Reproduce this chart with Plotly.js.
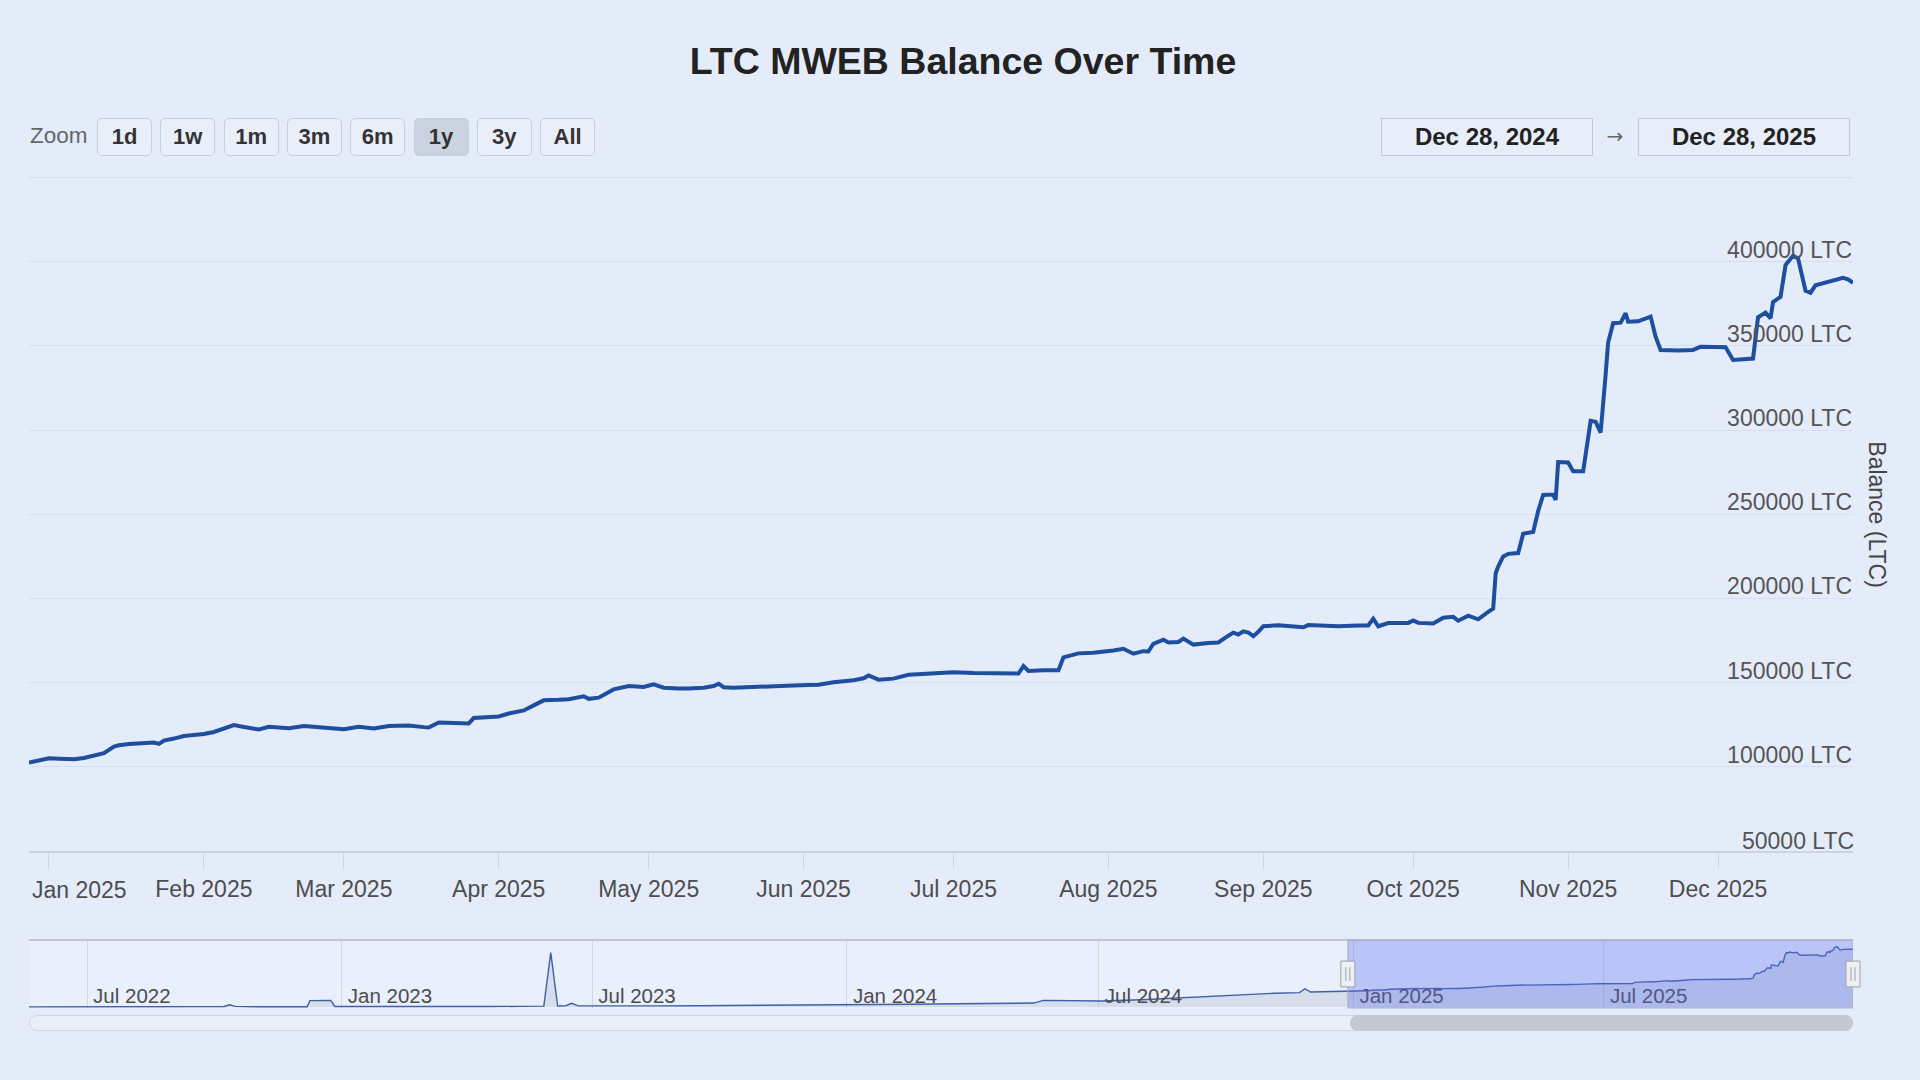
<!DOCTYPE html>
<html>
<head>
<meta charset="utf-8">
<title>LTC MWEB Balance Over Time</title>
<script src="https://cdn.plot.ly/plotly-3.0.1.min.js"></script>
<style>
body { margin: 0; background: #e4ecfa; font-family: "Liberation Sans", Arial, sans-serif; }
#chart { position: absolute; left: 0; top: 0; width: 1920px; height: 1080px; }
.zoom-label { position: absolute; left: 30px; top: 122px; font-size: 22.5px; line-height: 28px; color: #666; }
.btn { position: absolute; top: 118px; width: 55px; height: 38px; box-sizing: border-box; border: 1px solid #c6cfdc; border-radius: 5px; background: #e9eff9; font-size: 22px; font-weight: bold; color: #333; text-align: center; line-height: 36px; }
.btn.active { background: #cbd3e1; }
.datebox { position: absolute; top: 118px; width: 212px; height: 38px; box-sizing: border-box; border: 1px solid #c2c9d5; background: #e7eefa; font-size: 24px; font-weight: bold; color: #222; text-align: center; line-height: 36px; }
.arrow { position: absolute; top: 120px; left: 1603px; width: 24px; text-align: center; font-family: "DejaVu Sans", sans-serif; font-size: 20px; line-height: 32px; color: #666; }
.track { position: absolute; top: 1015px; height: 16px; box-sizing: border-box; border: 1px solid #cfd6e1; border-radius: 8px; background: #e8eff9; }
.thumb { position: absolute; top: 1015px; height: 16px; border-radius: 8px; background: #c3c9d3; }
</style>
</head>
<body>
<div id="chart"></div>
<div id="controls"></div>
<script>
// visible range (1y) and navigator range
const rangeStart = "2024-12-28"
const rangeEnd = "2025-12-28"
const navStart = "2022-05-20"

// main series, balance in LTC
const balanceDates = [
	"2024-12-28", "2024-12-29", "2024-12-31", "2025-01-01", "2025-01-03", "2025-01-06", "2025-01-08", "2025-01-10",
	"2025-01-12", "2025-01-14", "2025-01-15", "2025-01-17", "2025-01-20", "2025-01-22", "2025-01-23", "2025-01-24",
	"2025-01-26", "2025-01-28", "2025-01-30", "2025-02-01", "2025-02-03", "2025-02-05", "2025-02-07", "2025-02-09",
	"2025-02-12", "2025-02-14", "2025-02-16", "2025-02-18", "2025-02-21", "2025-02-24", "2025-02-27", "2025-03-01",
	"2025-03-04", "2025-03-07", "2025-03-10", "2025-03-14", "2025-03-17", "2025-03-18", "2025-03-20", "2025-03-23",
	"2025-03-26", "2025-03-27", "2025-03-30", "2025-04-01", "2025-04-03", "2025-04-06", "2025-04-08", "2025-04-10",
	"2025-04-13", "2025-04-15", "2025-04-18", "2025-04-19", "2025-04-21", "2025-04-23", "2025-04-24", "2025-04-27",
	"2025-04-30", "2025-05-02", "2025-05-04", "2025-05-07", "2025-05-09", "2025-05-12", "2025-05-14", "2025-05-15",
	"2025-05-16", "2025-05-18", "2025-05-21", "2025-05-24", "2025-05-27", "2025-05-30", "2025-06-02", "2025-06-04",
	"2025-06-07", "2025-06-11", "2025-06-13", "2025-06-14", "2025-06-16", "2025-06-19", "2025-06-22", "2025-06-26",
	"2025-07-01", "2025-07-05", "2025-07-09", "2025-07-13", "2025-07-14", "2025-07-15", "2025-07-16", "2025-07-19",
	"2025-07-22", "2025-07-23", "2025-07-26", "2025-07-29", "2025-07-31", "2025-08-02", "2025-08-04", "2025-08-06",
	"2025-08-08", "2025-08-09", "2025-08-10", "2025-08-12", "2025-08-13", "2025-08-15", "2025-08-16", "2025-08-18",
	"2025-08-21", "2025-08-23", "2025-08-25", "2025-08-26", "2025-08-27", "2025-08-28", "2025-08-29", "2025-08-30",
	"2025-08-31", "2025-09-01", "2025-09-04", "2025-09-07", "2025-09-09", "2025-09-10", "2025-09-13", "2025-09-16",
	"2025-09-20", "2025-09-22", "2025-09-23", "2025-09-24", "2025-09-26", "2025-09-30", "2025-10-01", "2025-10-02",
	"2025-10-05", "2025-10-07", "2025-10-09", "2025-10-10", "2025-10-12", "2025-10-14", "2025-10-16", "2025-10-17",
	"2025-10-17 12:00", "2025-10-18", "2025-10-19", "2025-10-20", "2025-10-22", "2025-10-23", "2025-10-25", "2025-10-26",
	"2025-10-27", "2025-10-29", "2025-10-29 12:00", "2025-10-30", "2025-11-01", "2025-11-02", "2025-11-04", "2025-11-05 12:00",
	"2025-11-06 12:00", "2025-11-07 12:00", "2025-11-08 12:00", "2025-11-09", "2025-11-10", "2025-11-11 12:00", "2025-11-12 12:00", "2025-11-13",
	"2025-11-15", "2025-11-17 12:00", "2025-11-18 12:00", "2025-11-19 12:00", "2025-11-23", "2025-11-26", "2025-11-27 12:00", "2025-12-02 12:00",
	"2025-12-04", "2025-12-08", "2025-12-09", "2025-12-10 12:00", "2025-12-11 12:00", "2025-12-12", "2025-12-13 12:00", "2025-12-14 12:00",
	"2025-12-16", "2025-12-17", "2025-12-18 12:00", "2025-12-19 12:00", "2025-12-20 12:00", "2025-12-22", "2025-12-24", "2025-12-26",
	"2025-12-27", "2025-12-28"
]
const balanceValues = [
	102500, 103100, 104800, 105100, 104800, 104500, 105300, 106500,
	108100, 112000, 112800, 113600, 114200, 114400, 113600, 115600,
	116800, 118300, 118900, 119500, 120700, 122600, 124800, 123700,
	122200, 123800, 123200, 123000, 124200, 123500, 122800, 122400,
	123800, 122800, 124300, 124600, 123600, 123400, 126300, 126300,
	125800, 129000, 129500, 129900, 131700, 133500, 136500, 139500,
	139800, 140200, 141900, 140400, 141100, 144000, 146000, 148000,
	147400, 149000, 147000, 146600, 146500, 147000, 148000, 149400,
	147300, 147000, 147200, 147400, 147600, 148300, 148600, 148800,
	150300, 151400, 152600, 154300, 151800, 152400, 154700, 155600,
	156200, 155700, 155600, 155300, 155400, 159800, 156900, 157300,
	157300, 165000, 167400, 167800, 168200, 169100, 170100, 167200,
	168700, 168500, 173100, 175500, 173900, 174200, 176200, 172600,
	173600, 173900, 177900, 179700, 178600, 180500, 179800, 177600,
	180200, 183500, 184100, 183600, 182900, 184200, 184100, 183500,
	184000, 184000, 188000, 183500, 185400, 185500, 187000, 185500,
	185100, 188600, 189100, 186800, 189800, 187600, 192000, 194000,
	215000, 219000, 225000, 226500, 227000, 238500, 239500, 252000,
	261500, 261700, 258500, 281000, 280800, 275500, 275500, 305500,
	305000, 298500, 333000, 352000, 363500, 363800, 369400, 364400,
	364600, 367400, 355500, 347600, 347300, 347600, 349500, 349200,
	341700, 342500, 367000, 369800, 366400, 376000, 379200, 398000,
	403500, 402000, 382800, 381600, 386000, 387200, 389000, 390500,
	389500, 387500
]

// earlier history, only shown in the navigator
const historyDates = [
	"2022-05-20", "2022-06-10", "2022-07-10", "2022-08-15", "2022-08-22", "2022-08-28", "2022-09-15", "2022-09-28",
	"2022-10-08", "2022-10-12", "2022-10-16", "2022-11-01", "2022-11-25", "2022-12-07", "2022-12-09", "2022-12-24",
	"2022-12-27", "2023-01-10", "2023-01-25", "2023-02-15", "2023-03-15", "2023-04-15", "2023-05-10", "2023-05-27",
	"2023-06-01", "2023-06-06", "2023-06-12", "2023-06-16", "2023-06-21", "2023-07-15", "2023-08-15", "2023-09-15",
	"2023-10-15", "2023-11-15", "2023-12-15", "2024-01-15", "2024-02-15", "2024-03-20", "2024-04-20", "2024-05-15",
	"2024-05-22", "2024-06-05", "2024-07-03", "2024-08-01", "2024-09-03", "2024-09-25", "2024-10-17", "2024-11-05",
	"2024-11-23", "2024-11-27", "2024-12-01", "2024-12-15"
]
const historyValues = [
	0, 800, 1500, 2500, 5000, 2500, 3500, 4500,
	3000, 14000, 3500, 1500, 1000, 1500, 42000, 44000,
	3000, 2500, 4000, 3000, 2500, 3000, 3500, 5000,
	365000, 6000, 8000, 24000, 7000, 5000, 7000, 8000,
	9000, 10000, 12000, 15000, 18000, 21000, 24000, 26000,
	44000, 42000, 40000, 48000, 64000, 72000, 86000, 92000,
	96000, 122000, 100000, 101000
]

// axis ticks
const yTickVals = [50000, 100000, 150000, 200000, 250000, 300000, 350000, 400000]
const yTickText = ["50000 LTC", "100000 LTC", "150000 LTC", "200000 LTC", "250000 LTC", "300000 LTC", "350000 LTC", "400000 LTC"]
const monthTickVals = ["2025-01-01", "2025-02-01", "2025-03-01", "2025-04-01", "2025-05-01", "2025-06-01",
	"2025-07-01", "2025-08-01", "2025-09-01", "2025-10-01", "2025-11-01", "2025-12-01"]
// first label is drawn as an annotation, pushed right like the original
const monthTickText = ["", "Feb 2025", "Mar 2025", "Apr 2025", "May 2025", "Jun 2025",
	"Jul 2025", "Aug 2025", "Sep 2025", "Oct 2025", "Nov 2025", "Dec 2025"]
const firstMonthLabel = "Jan 2025"
const navTickVals = ["2022-07-01", "2023-01-01", "2023-07-01", "2024-01-01", "2024-07-01", "2025-01-01", "2025-07-01"]
const navTickText = ["Jul 2022", "Jan 2023", "Jul 2023", "Jan 2024", "Jul 2024", "Jan 2025", "Jul 2025"]

const zoomButtons = ["1d", "1w", "1m", "3m", "6m", "1y", "3y", "All"]
const activeButton = "1y"
const startLabel = "Dec 28, 2024"
const endLabel = "Dec 28, 2025"

function navigator_fraction(date) {
	const t0 = Date.parse(navStart)
	const t1 = Date.parse(rangeEnd)
	return (Date.parse(date) - t0) / (t1 - t0)
}

function handle_shapes(xf) {
	var common = { type: "rect", xref: "paper", yref: "y2 domain", xsizemode: "pixel", xanchor: xf, layer: "above" }
	return [
		{ ...common, x0: -7, x1: 7, y0: 0.31, y1: 0.69, fillcolor: "#eef0f4", line: { color: "#9ba1ab", width: 1 } },
		{ ...common, type: "line", x0: -2, x1: -2, y0: 0.4, y1: 0.6, line: { color: "#9ba1ab", width: 1 } },
		{ ...common, type: "line", x0: 2, x1: 2, y0: 0.4, y1: 0.6, line: { color: "#9ba1ab", width: 1 } }
	]
}

function balance_app() {
	const plotLeft = 29
	const plotWidth = 1824
	const mainDomain = [0.212, 0.8356]
	const navDomain = [0.0667, 0.1296]
	const fontFamily = "\"Liberation Sans\", Arial, sans-serif"
	const labelDrop = 4 // y labels sit a little lower than plain "inside top"

	var line = {
		x: balanceDates,
		y: balanceValues,
		xaxis: "x",
		yaxis: "y",
		type: "scatter",
		mode: "lines",
		line: { color: "#1d4e9f", width: 4 },
		hoverinfo: "x+y"
	}

	var navLine = {
		x: historyDates.concat(balanceDates),
		y: historyValues.concat(balanceValues),
		xaxis: "x2",
		yaxis: "y2",
		type: "scatter",
		mode: "lines",
		line: { color: "#3f60a6", width: 1.4 },
		fill: "tozeroy",
		fillcolor: "rgba(80,95,120,0.12)",
		hoverinfo: "skip"
	}

	var startFrac = navigator_fraction(rangeStart)

	var shapes = [
		// top gridline of the main plot (450000, no label)
		{ type: "line", xref: "x domain", yref: "y domain", x0: 0, x1: 1, y0: 1, y1: 1,
			line: { color: "#d5dfef", width: 1 }, layer: "below" },
		// navigator background and top outline
		{ type: "rect", xref: "x2 domain", yref: "y2 domain", x0: 0, x1: 1, y0: 0, y1: 1,
			fillcolor: "rgba(255,255,255,0.2)", line: { width: 0 }, layer: "below" },
		{ type: "line", xref: "paper", yref: "y2 domain", x0: 0, x1: 1, y0: 1, y1: 1,
			line: { color: "#b3bbc8", width: 1.5 } },
		// selected range mask
		{ type: "rect", xref: "x2", yref: "y2 domain", x0: rangeStart, x1: rangeEnd, y0: 0, y1: 1,
			fillcolor: "rgba(90,110,240,0.33)", line: { color: "#aab3c2", width: 1 }, layer: "above" }
	].concat(handle_shapes(startFrac), handle_shapes(1))

	var layout = {
		width: 1920,
		height: 1080,
		margin: { l: plotLeft, r: 1920 - plotLeft - plotWidth, t: 0, b: 0, pad: 0 },
		paper_bgcolor: "#e4ecfa",
		plot_bgcolor: "rgba(0,0,0,0)",
		showlegend: false,
		font: { family: fontFamily, color: "#4d4d4d" },
		title: {
			text: "LTC MWEB Balance Over Time",
			font: { size: 37.5, weight: "bold", color: "#222" },
			x: 963 / 1920,
			xref: "container",
			xanchor: "center",
			y: 1 - 61 / 1080,
			yref: "container",
			yanchor: "middle"
		},
		xaxis: {
			domain: [0, 1],
			anchor: "y",
			type: "date",
			range: [rangeStart, rangeEnd],
			tickvals: monthTickVals,
			ticktext: monthTickText,
			ticks: "outside",
			ticklen: 15,
			tickwidth: 1,
			tickcolor: "#cbd4e3",
			ticklabelstandoff: 2,
			showline: true,
			linecolor: "#cbd4e3",
			linewidth: 1.5,
			showgrid: false,
			zeroline: false,
			tickfont: { size: 23, color: "#4d4d4d" }
		},
		yaxis: {
			domain: mainDomain,
			anchor: "x",
			side: "right",
			range: [50000, 450000],
			// the bottom label would be hidden by plotly at the domain edge, it is an annotation below
			tickvals: yTickVals,
			ticktext: [""].concat(yTickText.slice(1)),
			ticklabelposition: "inside top",
			ticklabelstandoff: -2,
			ticklabelshift: labelDrop,
			ticks: "",
			ticklen: 0,
			showgrid: true,
			gridcolor: "#d5dfef",
			gridwidth: 1,
			zeroline: false,
			showline: false,
			tickfont: { size: 23, color: "#555" }
		},
		xaxis2: {
			domain: [0, 1],
			anchor: "y2",
			type: "date",
			range: [navStart, rangeEnd],
			tickvals: navTickVals,
			ticktext: navTickText,
			ticklabelposition: "inside right",
			ticklabelshift: 6,
			ticklabelstandoff: -5,
			ticks: "",
			showgrid: true,
			gridcolor: "#d0d7e3",
			gridwidth: 1,
			showline: false,
			zeroline: false,
			tickfont: { size: 20.5, color: "#4d4d4d" }
		},
		yaxis2: {
			domain: navDomain,
			anchor: "x2",
			range: [-7000, 449000],
			showgrid: false,
			showticklabels: false,
			zeroline: false,
			ticks: ""
		},
		shapes: shapes,
		annotations: [
			{
				xref: "x", yref: "paper", x: rangeStart, y: mainDomain[0],
				xanchor: "left", yanchor: "middle", xshift: 1, yshift: -39,
				text: firstMonthLabel, showarrow: false,
				font: { size: 23, color: "#4d4d4d" }
			},
			{
				xref: "paper", yref: "y", x: 1, y: yTickVals[0],
				xanchor: "right", yanchor: "bottom", xshift: 3, yshift: -labelDrop - 1,
				text: yTickText[0], showarrow: false,
				font: { size: 23, color: "#555" }
			},
			{
				xref: "paper", yref: "paper", x: 1, y: (mainDomain[0] + mainDomain[1]) / 2,
				xanchor: "center", yanchor: "middle", xshift: 24, textangle: 90,
				text: "Balance (LTC)", showarrow: false,
				font: { size: 23, color: "#444" }
			}
		]
	}

	var config = {
		displayModeBar: false
	}

	Plotly.newPlot("chart", [navLine, line], layout, config)

	// zoom buttons, date boxes and scrollbar above the plot
	var controls = document.getElementById("controls")

	var zoomLabel = document.createElement("div")
	zoomLabel.className = "zoom-label"
	zoomLabel.textContent = "Zoom"
	controls.appendChild(zoomLabel)

	for (var i = 0; i < zoomButtons.length; ++i)
	{
		var btn = document.createElement("div")
		btn.className = zoomButtons[i] == activeButton ? "btn active" : "btn"
		btn.style.left = (97 + i * 63.3) + "px"
		btn.textContent = zoomButtons[i]
		controls.appendChild(btn)
	}

	var fromBox = document.createElement("div")
	fromBox.className = "datebox"
	fromBox.style.left = "1381px"
	fromBox.textContent = startLabel
	controls.appendChild(fromBox)

	var arrow = document.createElement("div")
	arrow.className = "arrow"
	arrow.textContent = "\u2192"
	controls.appendChild(arrow)

	var toBox = document.createElement("div")
	toBox.className = "datebox"
	toBox.style.left = "1638px"
	toBox.textContent = endLabel
	controls.appendChild(toBox)

	var track = document.createElement("div")
	track.className = "track"
	track.style.left = plotLeft + "px"
	track.style.width = plotWidth + "px"
	controls.appendChild(track)

	var thumb = document.createElement("div")
	thumb.className = "thumb"
	thumb.style.left = (plotLeft + startFrac * plotWidth + 2) + "px"
	thumb.style.width = ((1 - startFrac) * plotWidth - 2) + "px"
	controls.appendChild(thumb)
}

balance_app()
</script>
</body>
</html>
